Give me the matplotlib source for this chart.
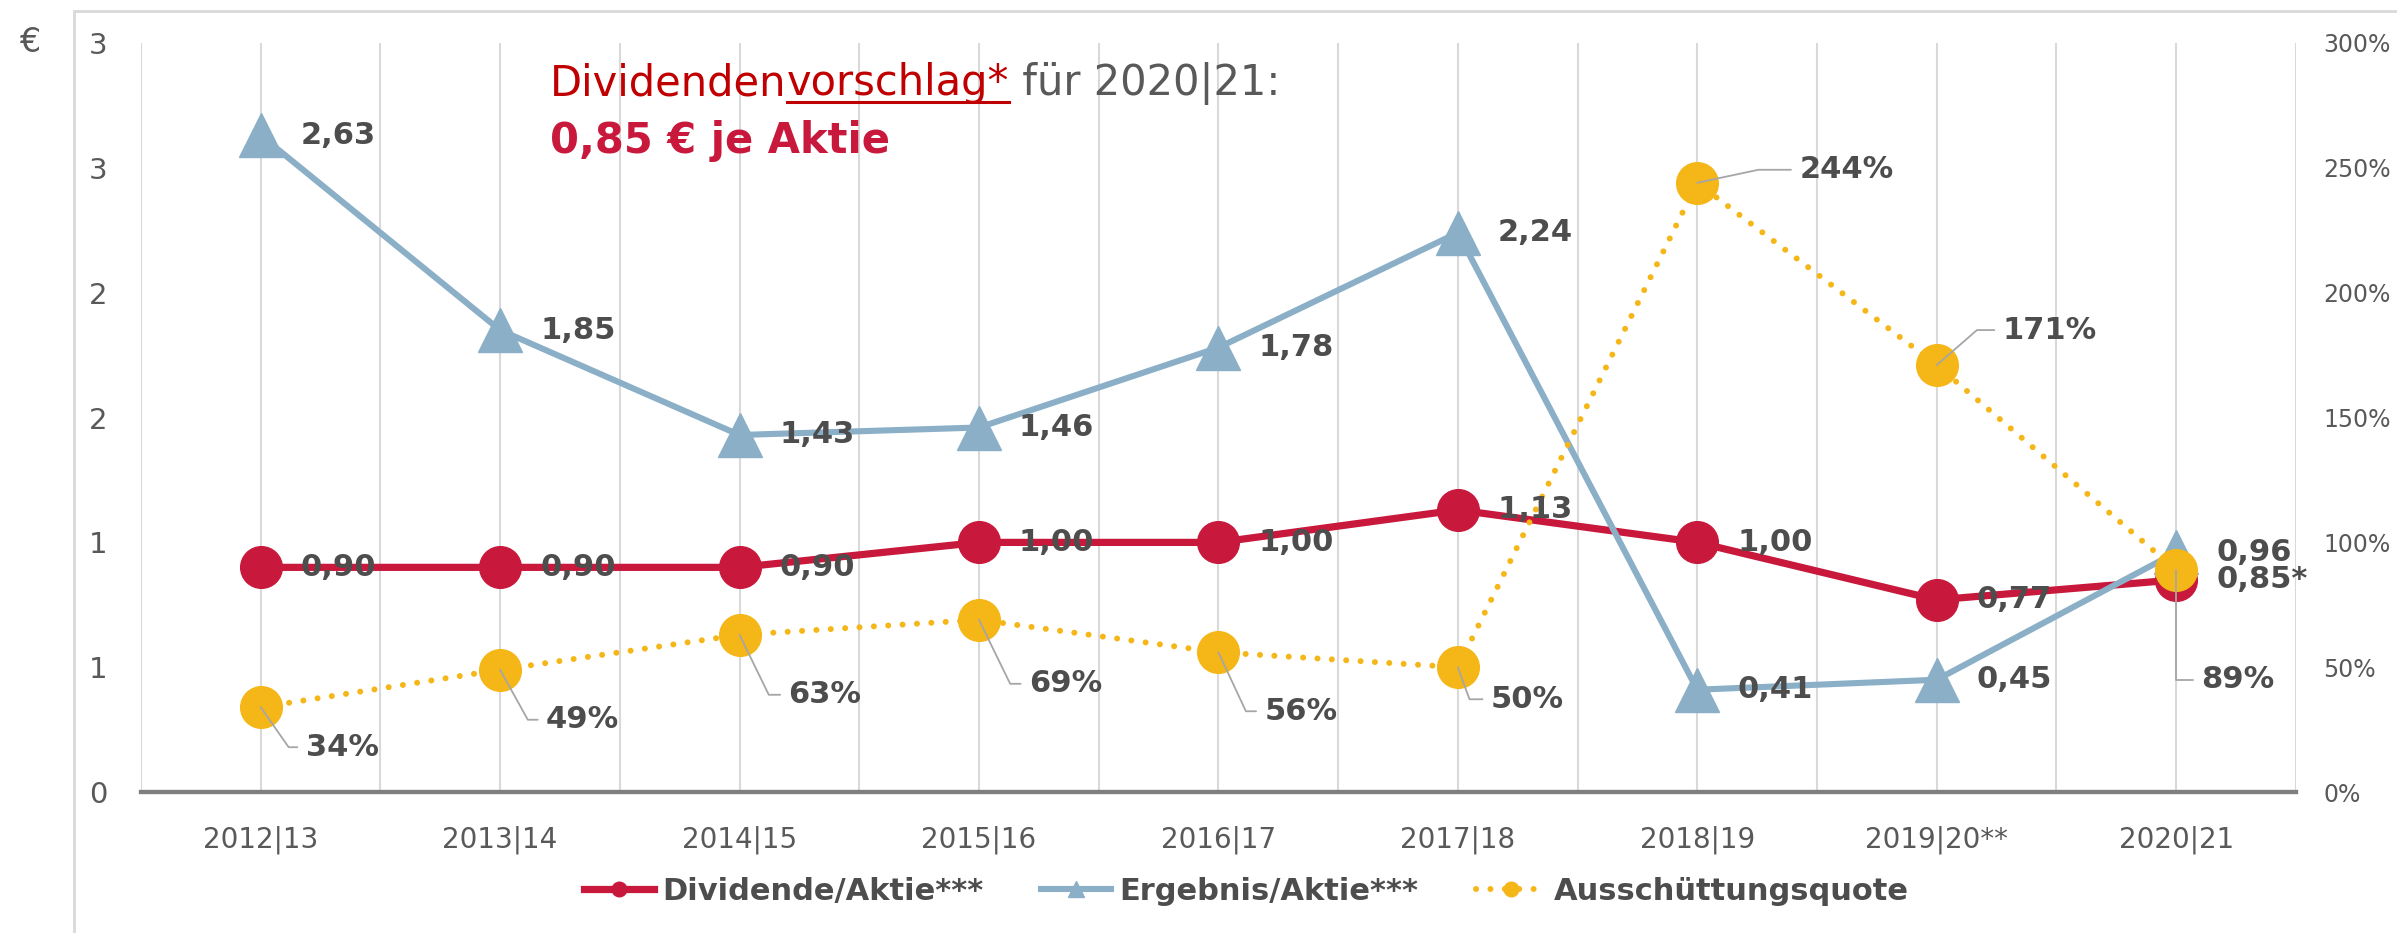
import numpy as np
import matplotlib
matplotlib.use("Agg")
import matplotlib.pyplot as plt
from matplotlib.lines import Line2D
from matplotlib.patches import Rectangle
from matplotlib.ticker import FixedLocator, FuncFormatter

# data
years = ["2012|13", "2013|14", "2014|15", "2015|16", "2016|17",
         "2017|18", "2018|19", "2019|20**", "2020|21"]
dividende = [0.90, 0.90, 0.90, 1.00, 1.00, 1.13, 1.00, 0.77, 0.85]
ergebnis = [2.63, 1.85, 1.43, 1.46, 1.78, 2.24, 0.41, 0.45, 0.96]
quote = [34, 49, 63, 69, 56, 50, 244, 171, 89]
left_ticks = [0, 0.5, 1.0, 1.5, 2.0, 2.5, 3.0]
left_tick_labels = ["0", "1", "1", "2", "2", "3", "3"]

RED = "#C8193C"
BLUE = "#8AAFC7"
YELLOW = "#F5B617"
LABEL = "#4D4D4D"
TICK = "#595959"

plt.rcParams['font.family'] = 'DejaVu Sans'

fig = plt.figure(figsize=(23.97, 9.33), dpi=100)
ax1 = fig.add_axes([0.0588, 0.151, 0.899, 0.803])
ax2 = ax1.twinx()

x = np.arange(len(years))

# lines (Excel order: dividend first, earnings over it)
ax1.plot(x, dividende, color=RED, lw=5.2, marker='o', ms=30, zorder=3,
         label='Dividende/Aktie***')
ax1.plot(x, ergebnis, color=BLUE, lw=4.4, marker='^', ms=32, zorder=4,
         label='Ergebnis/Aktie***')
ax2.plot(x, np.array(quote) / 100, color=YELLOW, lw=4.3, linestyle=(0, (0.01, 2.4)),
         dash_capstyle='round', marker='o', ms=30, zorder=3,
         label='Ausschüttungsquote')

# axes
ax1.set_xlim(-0.5, len(years) - 0.5)
ax1.set_ylim(0, 3)
ax2.set_ylim(0, 3)
ax1.set_xticks(x)
ax1.set_xticklabels(years)
ax1.xaxis.set_minor_locator(FixedLocator(np.arange(-0.5, len(years), 1.0)))
ax1.grid(True, axis='x', which='both', color='#D9D9D9', lw=1.5, zorder=0)
ax1.set_yticks(left_ticks)
ax1.set_yticklabels(left_tick_labels)
ax2.set_yticks(np.arange(0, 3.01, 0.5))
ax2.yaxis.set_major_formatter(FuncFormatter(lambda v, p: f"{v*100:.0f}%"))

ax1.tick_params(axis='x', which='both', length=0, pad=24, labelsize=20, labelcolor=TICK)
ax1.tick_params(axis='y', length=0, pad=24, labelsize=21, labelcolor=TICK)
ax2.tick_params(axis='y', length=0, pad=20, labelsize=17, labelcolor=TICK)
for a in (ax1, ax2):
    for s in ('top', 'left', 'right'):
        a.spines[s].set_visible(False)
    a.spines['bottom'].set_color('#7F7F7F')
    a.spines['bottom'].set_linewidth(3)
ax1.set_axisbelow(True)

# data labels (drawn on the top axes so they sit over the lines)
lab_kw = dict(fontsize=22, fontweight='bold', color=LABEL, va='center', ha='left',
              textcoords='offset pixels', xycoords=ax1.transData, zorder=10)
for i, v in enumerate(ergebnis):
    ax2.annotate(f"{v:.2f}".replace('.', ','), xy=(i, v), xytext=(40, 0), **lab_kw)
for i, v in enumerate(dividende):
    s = f"{v:.2f}".replace('.', ',') + ("*" if i == len(dividende) - 1 else "")
    ax2.annotate(s, xy=(i, v), xytext=(40, 0), **lab_kw)

# payout ratio labels with leader lines
q_offsets = [(45, -40), (46, -50), (49, -60), (50, -64), (46, -59),
             (33, -32), (102, 13), (66, 35), (25, -110)]
q_angles = [-55, -61, -64, -64, -65, -70, 12, 41, 90]
for i, v in enumerate(quote):
    ax2.annotate(f"{v}%", xy=(i, v / 100), xytext=q_offsets[i],
                 textcoords='offset pixels', fontsize=22, fontweight='bold',
                 color=LABEL, ha='left', va='center', zorder=10,
                 arrowprops=dict(arrowstyle='-', color='#A6A6A6', lw=1.3,
                                 shrinkA=4, shrinkB=0, relpos=(0, 0.5),
                                 connectionstyle=f"angle,angleA=0,angleB={q_angles[i]},rad=0"))

# legend
h1, l1 = ax1.get_legend_handles_labels()
h2, l2 = ax2.get_legend_handles_labels()
leg = fig.legend(h1 + h2, l1 + l2, loc='center', bbox_to_anchor=(0.52, 0.045),
                 ncol=3, frameon=False, fontsize=22, handlelength=2.3,
                 columnspacing=1.9, handletextpad=0.25, markerscale=0.35)
for t in leg.get_texts():
    t.set_fontweight('bold')
    t.set_color(LABEL)

# euro sign and frame
fig.text(30 / 2397, 1 - 43 / 933, "€", fontsize=24, color=TICK, ha='center', va='center')
fig.patches.append(Rectangle((74 / 2397, -0.05), 1.2, 1.05 - 11 / 933,
                             transform=fig.transFigure, fill=False,
                             edgecolor='#D9D9D9', lw=2, clip_on=False))

# headline text with underlined part
fig.canvas.draw()
r = fig.canvas.get_renderer()
W, H = fig.bbox.width, fig.bbox.height
xpos = 0.2296
ybase = 0.898
parts = [("Dividenden", "#C00000", False), ("vorschlag*", "#C00000", True),
         (" für 2020|21:", TICK, False)]
for s, c, ul in parts:
    t = fig.text(xpos, ybase, s, fontsize=30, color=c, va='baseline')
    bb = t.get_window_extent(renderer=r)
    if ul:
        yl = ybase - 7 / H
        fig.add_artist(Line2D([bb.x0 / W, bb.x1 / W], [yl, yl], color=c, lw=2.2,
                              transform=fig.transFigure))
    xpos = bb.x1 / W
fig.text(0.2296, 0.836, "0,85 € je Aktie", fontsize=30, fontweight='bold',
         color=RED, va='baseline')

fig.savefig("out.png", dpi=100)
